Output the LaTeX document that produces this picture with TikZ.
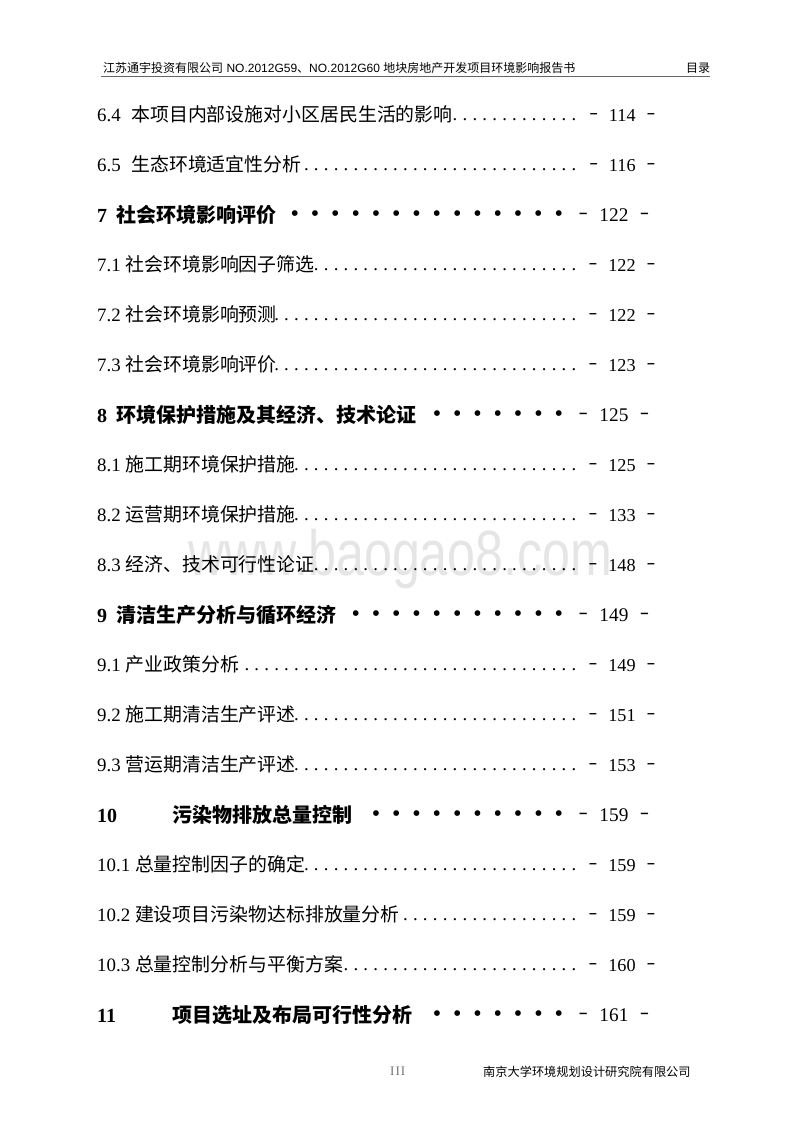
\documentclass[tikz,border=0pt]{standalone}
\usepackage{fontspec}
\usepackage{graphicx}
\setmainfont{Liberation Serif}
\newfontfamily\cjk{Noto Sans CJK SC}
\newfontfamily\headfont{Liberation Sans}
\newfontfamily\dotfont[LetterSpace=28]{Liberation Serif}
\newfontfamily\bulletfont[LetterSpace=49.6]{Liberation Serif}
\newfontfamily\pagefont[WordSpace=2.4]{Liberation Serif}
\newcommand{\ldash}{\raisebox{2.8pt}{\scalebox{1.45}[1]{-}}}
\tikzset{
  subrow/.style={anchor=base west,inner sep=0pt,font=\fontsize{18.9}{20}\selectfont},
  secrow/.style={anchor=base west,inner sep=0pt,font=\fontsize{20}{22}\selectfont\bfseries},
  leaderdots/.style={anchor=base east,inner sep=0pt,font=\fontsize{18.7}{20}\dotfont},
  leaderbullets/.style={anchor=base east,inner sep=0pt,font=\fontsize{24}{26}\bulletfont},
  subpage/.style={anchor=base east,inner sep=0pt,font=\fontsize{18.2}{20}\pagefont},
  secpage/.style={anchor=base east,inner sep=0pt,font=\fontsize{19.3}{20}\pagefont},
  pagehead/.style={anchor=base west,inner sep=0pt,font=\fontsize{12}{14}\headfont},
}
\begin{document}
\begin{tikzpicture}[x=1pt,y=-1pt]
    \useasboundingbox (0,0) rectangle (800,1132);
    % watermark first, it lies under the rows
    \node[anchor=base west,inner sep=0pt,text=black!10,font=\fontsize{64}{66}\headfont] (mark) at (188,575) {\scalebox{.785}[1]{www.baogao8.com}};
    % page head
    \node[pagehead] (headl) at (103,72) {{\cjk 江苏通宇投资有限公司} NO.2012G59{\cjk 、}NO.2012G60 {\cjk 地块房地产开发项目环境影响报告书}};
    \node[pagehead] (headr) at (686,72) {\cjk 目录};
    \coordinate (rulel) at (101,76);
    \coordinate (ruler) at (710,76);
    \draw[black!60,line width=.9pt] (rulel)--(ruler);
    % 6
    \node[subrow] (r64) at (97,121) {6.4\hspace{10.5pt}{\cjk 本项目内部设施对小区居民生活的影响}};
    \node[leaderdots] (d64) at (576.5,120) {.............};
    \node[subpage] (p64) at (655.5,121) {\ldash{} 114 \ldash};
    \node[subrow] (r65) at (97,171) {6.5\hspace{10.5pt}{\cjk 生态环境适宜性分析}};
    \node[leaderdots] (d65) at (576.5,170) {............................};
    \node[subpage] (p65) at (655.5,171) {\ldash{} 116 \ldash};
    % 7
    \node[secrow] (r7) at (97,222) {7\hspace{9.5pt}{\cjk 社会环境影响评价}};
    \node[leaderbullets] (d7) at (563.2,221.7) {••••••••••••••};
    \node[secpage] (p7) at (649.5,221) {\ldash{} 122 \ldash};
    \node[subrow] (r71) at (97,271) {7.1 {\cjk 社会环境影响因子筛选}};
    \node[leaderdots] (d71) at (576.5,270) {...........................};
    \node[subpage] (p71) at (655.5,271) {\ldash{} 122 \ldash};
    \node[subrow] (r72) at (97,321) {7.2 {\cjk 社会环境影响预测}};
    \node[leaderdots] (d72) at (576.5,320) {...............................};
    \node[subpage] (p72) at (655.5,321) {\ldash{} 122 \ldash};
    \node[subrow] (r73) at (97,371) {7.3 {\cjk 社会环境影响评价}};
    \node[leaderdots] (d73) at (576.5,370) {...............................};
    \node[subpage] (p73) at (655.5,371) {\ldash{} 123 \ldash};
    % 8
    \node[secrow] (r8) at (97,422) {8\hspace{9.5pt}{\cjk 环境保护措施及其经济、技术论证}};
    \node[leaderbullets] (d8) at (563.2,421.7) {•••••••};
    \node[secpage] (p8) at (649.5,421) {\ldash{} 125 \ldash};
    \node[subrow] (r81) at (97,471) {8.1 {\cjk 施工期环境保护措施}};
    \node[leaderdots] (d81) at (576.5,470) {.............................};
    \node[subpage] (p81) at (655.5,471) {\ldash{} 125 \ldash};
    \node[subrow] (r82) at (97,521) {8.2 {\cjk 运营期环境保护措施}};
    \node[leaderdots] (d82) at (576.5,520) {.............................};
    \node[subpage] (p82) at (655.5,521) {\ldash{} 133 \ldash};
    \node[subrow] (r83) at (97,571) {8.3 {\cjk 经济、技术可行性论证}};
    \node[leaderdots] (d83) at (576.5,570) {...........................};
    \node[subpage] (p83) at (655.5,571) {\ldash{} 148 \ldash};
    % 9
    \node[secrow] (r9) at (97,622) {9\hspace{9.5pt}{\cjk 清洁生产分析与循环经济}};
    \node[leaderbullets] (d9) at (563.2,621.7) {•••••••••••};
    \node[secpage] (p9) at (649.5,621) {\ldash{} 149 \ldash};
    \node[subrow] (r91) at (97,671) {9.1 {\cjk 产业政策分析}};
    \node[leaderdots] (d91) at (576.5,670) {...................................};
    \node[subpage] (p91) at (655.5,671) {\ldash{} 149 \ldash};
    \node[subrow] (r92) at (97,721) {9.2 {\cjk 施工期清洁生产评述}};
    \node[leaderdots] (d92) at (576.5,720) {.............................};
    \node[subpage] (p92) at (655.5,721) {\ldash{} 151 \ldash};
    \node[subrow] (r93) at (97,771) {9.3 {\cjk 营运期清洁生产评述}};
    \node[leaderdots] (d93) at (576.5,770) {.............................};
    \node[subpage] (p93) at (655.5,771) {\ldash{} 153 \ldash};
    % 10
    \node[secrow] (r10) at (97,822) {10};
    \node[secrow] (t10) at (172,822) {\cjk 污染物排放总量控制};
    \node[leaderbullets] (d10) at (563.2,821.7) {••••••••••};
    \node[secpage] (p10) at (649.5,821) {\ldash{} 159 \ldash};
    \node[subrow] (r101) at (97,871) {10.1 {\cjk 总量控制因子的确定}};
    \node[leaderdots] (d101) at (576.5,870) {............................};
    \node[subpage] (p101) at (655.5,871) {\ldash{} 159 \ldash};
    \node[subrow] (r102) at (97,921) {10.2 {\cjk 建设项目污染物达标排放量分析}};
    \node[leaderdots] (d102) at (576.5,920) {..................};
    \node[subpage] (p102) at (655.5,921) {\ldash{} 159 \ldash};
    \node[subrow] (r103) at (97,971) {10.3 {\cjk 总量控制分析与平衡方案}};
    \node[leaderdots] (d103) at (576.5,970) {........................};
    \node[subpage] (p103) at (655.5,971) {\ldash{} 160 \ldash};
    % 11
    \node[secrow] (r11) at (97,1022) {11};
    \node[secrow] (t11) at (172,1022) {\cjk 项目选址及布局可行性分析};
    \node[leaderbullets] (d11) at (563.2,1021.7) {•••••••};
    \node[secpage] (p11) at (649.5,1021) {\ldash{} 161 \ldash};
    % page foot
    \node[anchor=base west,inner sep=0pt,text=black!55,font=\fontsize{13}{14}\selectfont] (foot) at (390,1075) {I\kern1pt I\kern1pt I};
    \node[pagehead,font=\fontsize{12.2}{14}\headfont] (footr) at (483,1076) {\cjk 南京大学环境规划设计研究院有限公司};
\end{tikzpicture}
\end{document}
